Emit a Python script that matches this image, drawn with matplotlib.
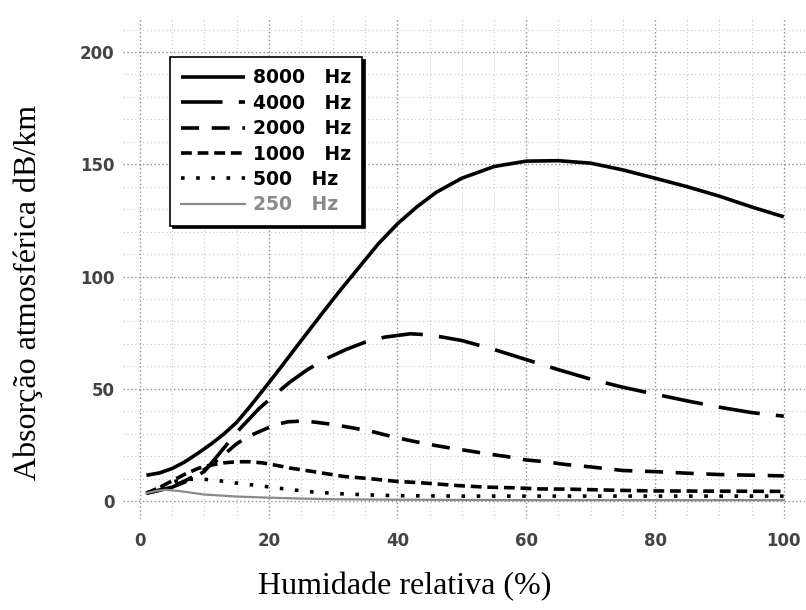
import matplotlib
matplotlib.use("Agg")
import matplotlib.pyplot as plt
import numpy as np

# humidity (%) / absorption (dB/km)
x_8000 = [1, 3, 5, 7, 9, 11, 13, 15, 17, 19, 21, 23, 25, 28, 31, 34, 37, 40, 43, 46,
          50, 55, 60, 65, 70, 75, 80, 85, 90, 95, 100]
y_8000 = [11.5, 12.5, 14.5, 17.5, 21.3, 25.3, 29.8, 35.0, 41.8, 49.0, 56.3, 63.8, 71.3,
          82.5, 93.5, 104.0, 114.5, 123.5, 131.0, 137.5, 143.8, 149.0, 151.4, 151.6,
          150.5, 147.5, 143.8, 140.0, 135.8, 131.0, 126.6]

x_4000 = [1, 3, 5, 7, 9, 10, 12, 14, 15.6, 18.5, 21, 23.3, 26, 29, 32, 35, 38, 42,
          45, 50, 55, 60, 65, 70, 75, 80, 85, 90, 95, 100]
y_4000 = [3.5, 4.8, 6.2, 8.5, 11.5, 13.2, 20.0, 27.0, 32.4, 41.2, 47.5, 53.0, 58.5,
          63.5, 67.5, 70.8, 73.0, 74.5, 74.0, 71.5, 67.5, 63.0, 58.5, 54.3, 50.7,
          47.6, 44.6, 41.8, 39.4, 37.8]

x_2000 = [1, 3, 5, 7, 9, 11, 13, 15, 17, 19, 21, 23, 25, 27, 30, 33, 36, 39, 42, 45,
          48, 51, 54, 57, 60, 63, 66, 70, 75, 80, 85, 90, 95, 100]
y_2000 = [3.5, 4.8, 6.5, 9.0, 12.0, 16.0, 20.5, 25.5, 29.0, 31.5, 34.0, 35.3, 35.6,
          35.2, 34.1, 32.6, 31.0, 28.8, 26.9, 25.2, 23.7, 22.4, 21.0, 19.8, 18.3,
          17.5, 16.3, 15.2, 13.6, 13.1, 12.4, 11.8, 11.5, 11.2]

x_1000 = [1, 3, 5, 7, 9, 11, 13, 15, 17, 19, 21, 23.3, 27.4, 31.5, 35.6, 39.7, 43.8,
          49.3, 53.7, 58.1, 62.2, 66.6, 71, 75.6, 80, 90, 100]
y_1000 = [3.5, 6.0, 9.0, 12.0, 14.5, 16.0, 17.0, 17.5, 17.5, 17.0, 16.0, 14.7, 12.9,
          11.0, 10.0, 8.8, 8.1, 6.9, 6.2, 5.9, 5.4, 5.3, 5.0, 4.7, 4.5, 4.4, 4.3]

x_500 = [1, 3, 5, 7, 9, 11, 13, 15, 17, 19.2, 23.3, 27.4, 31.5, 35.6, 40, 50, 60, 70,
         80, 90, 100]
y_500 = [3.5, 6.0, 8.5, 9.6, 9.8, 9.5, 8.8, 8.0, 7.3, 6.6, 5.1, 3.9, 3.2, 2.7, 2.4,
         2.2, 2.2, 2.2, 2.2, 2.2, 2.2]

x_250 = [1, 2.5, 4, 6, 8, 10, 15, 20, 25, 30, 40, 50, 60, 70, 80, 90, 100]
y_250 = [3.5, 4.5, 5.0, 4.5, 3.7, 2.9, 2.0, 1.5, 1.1, 0.8, 0.6, 0.5, 0.4, 0.4, 0.4,
         0.4, 0.4]

labels = ["8000   Hz", "4000   Hz", "2000   Hz", "1000   Hz", "500   Hz", "250   Hz"]

fig = plt.figure(figsize=(8.06, 6.10), dpi=100)
ax = fig.add_axes([123 / 806, 1 - 519 / 610, 682 / 806, 502 / 610])

ax.plot(x_8000, y_8000, color="black", lw=2.6, solid_capstyle="butt", label=labels[0])
ax.plot(x_4000, y_4000, color="black", lw=2.6, dashes=(11.5, 4.5),
        dash_capstyle="butt", label=labels[1])
ax.plot(x_2000, y_2000, color="black", lw=2.6, dashes=(5, 3.5),
        dash_capstyle="butt", label=labels[2])
ax.plot(x_1000, y_1000, color="black", lw=2.6, dashes=(3, 1.6),
        dash_capstyle="butt", label=labels[3])
ax.plot(x_500, y_500, color="black", lw=2.6, dashes=(1, 3.2),
        dash_capstyle="butt", label=labels[4])
ax.plot(x_250, y_250, color="#8a8a8a", lw=1.6, label=labels[5])

ax.set_xlim(-2.64, 103.3)
ax.set_ylim(-8.0, 215.6)
ax.set_xticks(np.arange(0, 101, 20))
ax.set_xticks(np.arange(0, 101, 5), minor=True)
ax.set_yticks(np.arange(0, 201, 50))
ax.set_yticks(np.arange(0, 211, 10), minor=True)

ax.grid(which="minor", color="#c6c6c6", lw=0.8, linestyle=(0, (1, 2.5)))
ax.grid(which="major", color="#8c8c8c", lw=1.0, linestyle=(0, (1, 1.8)))
ax.set_axisbelow(True)
for s in ax.spines.values():
    s.set_visible(False)

ax.tick_params(which="both", length=0)
ax.tick_params(axis="y", pad=6)
ax.tick_params(axis="x", pad=9)
for t in ax.get_xticklabels() + ax.get_yticklabels():
    t.set_fontfamily("DejaVu Sans")
    t.set_fontsize(12)
    t.set_fontweight("bold")
    t.set_color("#444444")

leg = ax.legend(loc="upper left", bbox_to_anchor=(0.069, 0.92), borderaxespad=0,
                prop={"family": "DejaVu Sans", "weight": "bold", "size": 13.5},
                handlelength=3.4, handletextpad=0.4, labelspacing=0.34,
                borderpad=0.6, fancybox=False, framealpha=1,
                edgecolor="black",
                shadow={"facecolor": "black", "edgecolor": "black", "alpha": 1})
leg.get_frame().set_linewidth(1.2)
leg.get_texts()[-1].set_color("#8a8a8a")

fig.text(405 / 806, 1 - 587 / 610, "Humidade relativa (%)", ha="center", va="center",
         family="Liberation Serif", fontsize=23)
fig.text(28 / 806, 1 - 292 / 610, "Absorção atmosférica dB/km", ha="center",
         va="center", rotation=90, family="Liberation Serif", fontsize=23)

fig.savefig("out.png", dpi=100)
